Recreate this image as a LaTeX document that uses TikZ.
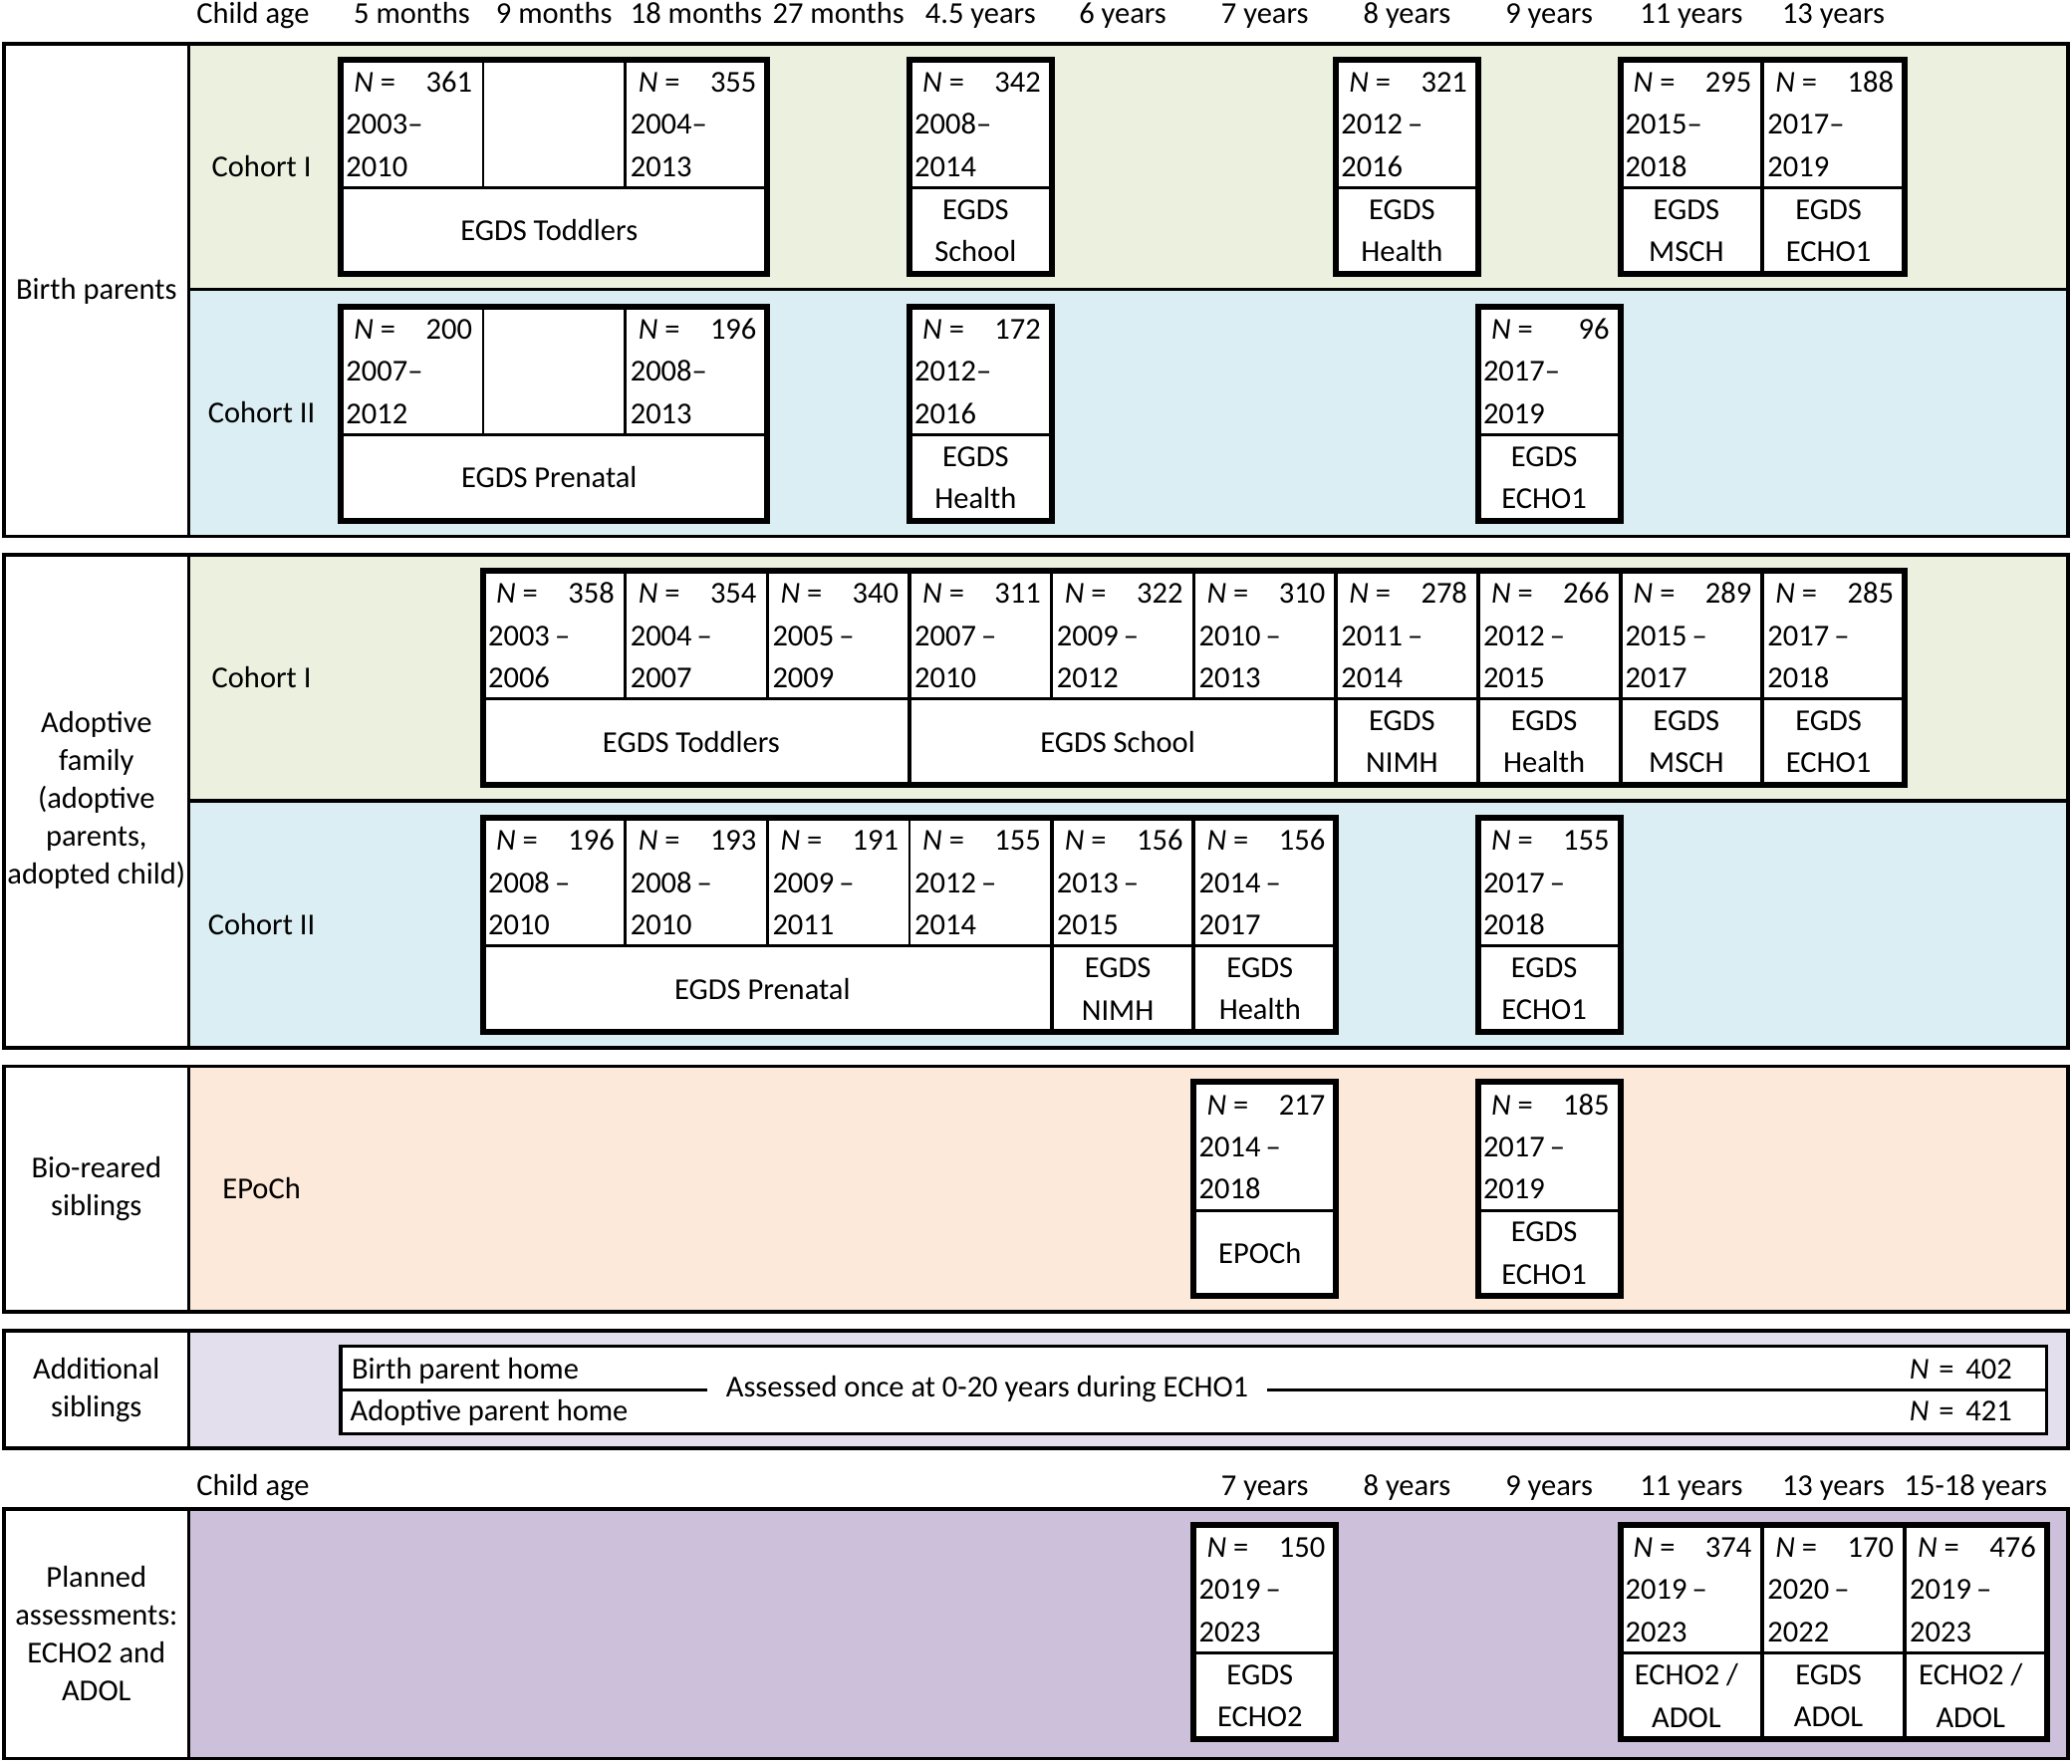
\documentclass[tikz,border=0pt]{standalone}
\usepackage{fontspec}
\setmainfont{Carlito}
\definecolor{cgreen}{HTML}{EBF1DE}
\definecolor{cblue}{HTML}{DAEEF3}
\definecolor{cpeach}{HTML}{FDE9D9}
\definecolor{clav}{HTML}{E4DFEC}
\definecolor{cpurp}{HTML}{CCC0DA}
\newcommand\cc[1]{(342.2+142.7*(#1))}
\newcommand\bx[3]{%
  \fill[white] ({\cc{#1}},#3) rectangle ({\cc{#2}},#3+214.9);
  \draw[divline] ({\cc{#1}},#3+128.7) -- ({\cc{#2}},#3+128.7);
  \draw[boxline] ({\cc{#1}},#3) rectangle ({\cc{#2}},#3+214.9);}
\newcommand\vt[2]{\draw[thinv] ({\cc{#1}},#2) -- ({\cc{#1}},#2+128.7);}
\newcommand\vf[2]{\draw[thickv] ({\cc{#1}},#2) -- ({\cc{#1}},#2+214.9);}
\newcommand\tcell[6]{%
  \node[lbl,anchor=base west] (#1n) at ({\cc{#2}+13},#3+32.6) {\textit{N} =};
  \node[lbl,anchor=base east] (#1v) at ({\cc{#2}+132},#3+32.6) {#4};
  \node[lbl,anchor=base west] (#1a) at ({\cc{#2}+5},#3+75) {#5};
  \node[lbl,anchor=base west] (#1b) at ({\cc{#2}+5},#3+117.4) {#6};}
\newcommand\bcell[5]{%
  \node[blbl] (#1) at ({(\cc{#2}+\cc{#3})/2-5},#4+171.8) {#5};}
\newcommand\da{\textendash}
\newcommand\ds{\,\textendash}
\begin{document}
\begin{tikzpicture}[x=1pt,y=-1pt,
  lbl/.style={font=\fontsize{30.5}{38}\selectfont, inner sep=0pt},
  blbl/.style={font=\fontsize{30.5}{42.4}\selectfont, inner sep=0pt, align=center},
  sect/.style={line width=3.5pt},
  boxline/.style={line width=6pt},
  divline/.style={line width=3pt},
  thinv/.style={line width=2.5pt},
  thickv/.style={line width=4pt}]
\useasboundingbox (0,0) rectangle (2080,1771);
\fill[white] (0,0) rectangle (2080,1771);

% ---------- section backgrounds ----------
\fill[cgreen] (189.7,43.8) rectangle (2076,290.5);
\fill[cblue] (189.7,290.5) rectangle (2076,538.6);
\fill[cgreen] (189.7,557.1) rectangle (2076,803.9);
\fill[cblue] (189.7,803.9) rectangle (2076,1051.9);
\fill[cpeach] (189.7,1070.5) rectangle (2076,1317.2);
\fill[clav] (189.7,1335.8) rectangle (2076,1453.8);
\fill[cpurp] (189.7,1514.9) rectangle (2076,1765.6);

% ---------- section borders ----------
\draw[sect] (4,43.8) rectangle (2076,538.6);
\draw[sect] (189.7,43.8) -- (189.7,538.6);
\draw[sect] (189.7,290.5) -- (2076,290.5);
\draw[sect] (4,557.1) rectangle (2076,1051.9);
\draw[sect] (189.7,557.1) -- (189.7,1051.9);
\draw[sect] (189.7,803.9) -- (2076,803.9);
\draw[sect] (4,1070.5) rectangle (2076,1317.2);
\draw[sect] (189.7,1070.5) -- (189.7,1317.2);
\draw[sect] (4,1335.8) rectangle (2076,1453.8);
\draw[sect] (189.7,1335.8) -- (189.7,1453.8);
\draw[sect] (4,1514.9) rectangle (2076,1765.6);
\draw[sect] (189.7,1514.9) -- (189.7,1765.6);

% ---------- headers ----------
\node[lbl,anchor=base] (h0) at (254,24) {Child age};
\foreach \t [count=\i from 0] in {5 months,9 months,18 months,27 months,4.5 years,6 years,7 years,8 years,9 years,11 years,13 years}
  \node[lbl,anchor=base] (h\i) at ({\cc{\i}+71.35},24) {\t};
\node[lbl,anchor=base] (k0) at (254,1501) {Child age};
\foreach \t [count=\i from 6] in {7 years,8 years,9 years,11 years,13 years,15-18 years}
  \node[lbl,anchor=base] (k\i) at ({\cc{\i}+71.35},1501) {\t};

% ---------- left labels ----------
\node[lbl,anchor=base] (bp) at (96.8,300.5) {Birth parents};
\node[lbl,align=center] (af) at (96.8,803.5) {Adoptive\\family\\(adoptive\\parents,\\adopted child)};
\node[lbl,align=center] (bs) at (96.8,1193.9) {Bio-reared\\siblings};
\node[lbl,align=center] (as) at (96.8,1395.5) {Additional\\siblings};
\node[lbl,align=center] (pa) at (96.8,1640.2) {Planned\\assessments:\\ECHO2 and\\ADOL};

\node[lbl,anchor=base] (r1) at (262.6,177.1) {Cohort I};
\node[lbl,anchor=base] (r2) at (262.6,424.6) {Cohort II};
\node[lbl,anchor=base] (r3) at (262.6,690.5) {Cohort I};
\node[lbl,anchor=base] (r4) at (262.6,938.4) {Cohort II};
\node[lbl,anchor=base] (r5) at (262.6,1203.9) {EPoCh};

% ---------- Birth parents, cohort I ----------
\bx{0}{3}{59.7} \vt{1}{59.7} \vt{2}{59.7}
\tcell{a1}{0}{59.7}{361}{2003\da}{2010}
\tcell{a2}{2}{59.7}{355}{2004\da}{2013}
\bcell{a3}{0}{3}{59.7}{EGDS Toddlers}
\bx{4}{5}{59.7}
\tcell{a4}{4}{59.7}{342}{2008\da}{2014}
\bcell{a5}{4}{5}{59.7}{EGDS\\School}
\bx{7}{8}{59.7}
\tcell{a6}{7}{59.7}{321}{2012\ds}{2016}
\bcell{a7}{7}{8}{59.7}{EGDS\\Health}
\bx{9}{11}{59.7} \vf{10}{59.7}
\tcell{a8}{9}{59.7}{295}{2015\da}{2018}
\bcell{a9}{9}{10}{59.7}{EGDS\\MSCH}
\tcell{a10}{10}{59.7}{188}{2017\da}{2019}
\bcell{a11}{10}{11}{59.7}{EGDS\\ECHO1}

% ---------- Birth parents, cohort II ----------
\bx{0}{3}{307.7} \vt{1}{307.7} \vt{2}{307.7}
\tcell{b1}{0}{307.7}{200}{2007\da}{2012}
\tcell{b2}{2}{307.7}{196}{2008\da}{2013}
\bcell{b3}{0}{3}{307.7}{EGDS Prenatal}
\bx{4}{5}{307.7}
\tcell{b4}{4}{307.7}{172}{2012\da}{2016}
\bcell{b5}{4}{5}{307.7}{EGDS\\Health}
\bx{8}{9}{307.7}
\tcell{b6}{8}{307.7}{96}{2017\da}{2019}
\bcell{b7}{8}{9}{307.7}{EGDS\\ECHO1}

% ---------- Adoptive, cohort I ----------
\bx{1}{11}{573.0}
\vt{2}{573.0} \vt{3}{573.0} \vt{5}{573.0} \vt{6}{573.0}
\vf{4}{573.0} \vf{7}{573.0} \vf{8}{573.0} \vf{9}{573.0} \vf{10}{573.0}
\tcell{c1}{1}{573.0}{358}{2003\ds}{2006}
\tcell{c2}{2}{573.0}{354}{2004\ds}{2007}
\tcell{c3}{3}{573.0}{340}{2005\ds}{2009}
\tcell{c4}{4}{573.0}{311}{2007\ds}{2010}
\tcell{c5}{5}{573.0}{322}{2009\ds}{2012}
\tcell{c6}{6}{573.0}{310}{2010\ds}{2013}
\tcell{c7}{7}{573.0}{278}{2011\ds}{2014}
\tcell{c8}{8}{573.0}{266}{2012\ds}{2015}
\tcell{c9}{9}{573.0}{289}{2015\ds}{2017}
\tcell{c10}{10}{573.0}{285}{2017\ds}{2018}
\bcell{c11}{1}{4}{573.0}{EGDS Toddlers}
\bcell{c12}{4}{7}{573.0}{EGDS School}
\bcell{c13}{7}{8}{573.0}{EGDS\\NIMH}
\bcell{c14}{8}{9}{573.0}{EGDS\\Health}
\bcell{c15}{9}{10}{573.0}{EGDS\\MSCH}
\bcell{c16}{10}{11}{573.0}{EGDS\\ECHO1}

% ---------- Adoptive, cohort II ----------
\bx{1}{7}{821.1}
\vt{2}{821.1} \vt{3}{821.1} \vt{4}{821.1}
\vf{5}{821.1} \vf{6}{821.1}
\tcell{d1}{1}{821.1}{196}{2008\ds}{2010}
\tcell{d2}{2}{821.1}{193}{2008\ds}{2010}
\tcell{d3}{3}{821.1}{191}{2009\ds}{2011}
\tcell{d4}{4}{821.1}{155}{2012\ds}{2014}
\tcell{d5}{5}{821.1}{156}{2013\ds}{2015}
\tcell{d6}{6}{821.1}{156}{2014\ds}{2017}
\bcell{d7}{1}{5}{821.1}{EGDS Prenatal}
\bcell{d8}{5}{6}{821.1}{EGDS\\NIMH}
\bcell{d9}{6}{7}{821.1}{EGDS\\Health}
\bx{8}{9}{821.1}
\tcell{d10}{8}{821.1}{155}{2017\ds}{2018}
\bcell{d11}{8}{9}{821.1}{EGDS\\ECHO1}

% ---------- Bio-reared siblings ----------
\bx{6}{7}{1086.4}
\tcell{e1}{6}{1086.4}{217}{2014\ds}{2018}
\bcell{e2}{6}{7}{1086.4}{EPOCh}
\bx{8}{9}{1086.4}
\tcell{e3}{8}{1086.4}{185}{2017\ds}{2019}
\bcell{e4}{8}{9}{1086.4}{EGDS\\ECHO1}

% ---------- Additional siblings ----------
\fill[white] ({\cc{0}},1351.7) rectangle ({\cc{12}},1439.3);
\node[lbl,anchor=base west] (bph) at (352.9,1384.3) {Birth parent home};
\node[lbl,anchor=base west] (aph) at (351.5,1426.7) {Adoptive parent home};
\node[lbl,anchor=base east] (n402) at (2020,1384.3) {\textit{N}\hspace{3pt} =\hspace{5pt} 402};
\node[lbl,anchor=base east] (n421) at (2020,1426.7) {\textit{N}\hspace{3pt} =\hspace{5pt} 421};
\node[lbl,anchor=base,inner xsep=19pt] (ao) at (991,1402.8) {Assessed once at 0-20 years during ECHO1};
\coordinate (ml) at ({\cc{0}},1395.5);
\coordinate (mr) at ({\cc{12}},1395.5);
\draw[sect] (ml) -- (ml -| ao.west);
\draw[sect] (ao.east |- mr) -- (mr);
\draw[sect] ({\cc{0}},1351.7) rectangle ({\cc{12}},1439.3);

% ---------- Planned assessments ----------
\bx{6}{7}{1530.8}
\tcell{f1}{6}{1530.8}{150}{2019\ds}{2023}
\bcell{f2}{6}{7}{1530.8}{EGDS\\ECHO2}
\bx{9}{12}{1530.8} \vf{10}{1530.8} \vf{11}{1530.8}
\tcell{f3}{9}{1530.8}{374}{2019\ds}{2023}
\tcell{f4}{10}{1530.8}{170}{2020\ds}{2022}
\tcell{f5}{11}{1530.8}{476}{2019\ds}{2023}
\bcell{f6}{9}{10}{1530.8}{ECHO2 /\\ADOL}
\bcell{f7}{10}{11}{1530.8}{EGDS\\ADOL}
\bcell{f8}{11}{12}{1530.8}{ECHO2 /\\ADOL}
\end{tikzpicture}
\end{document}
